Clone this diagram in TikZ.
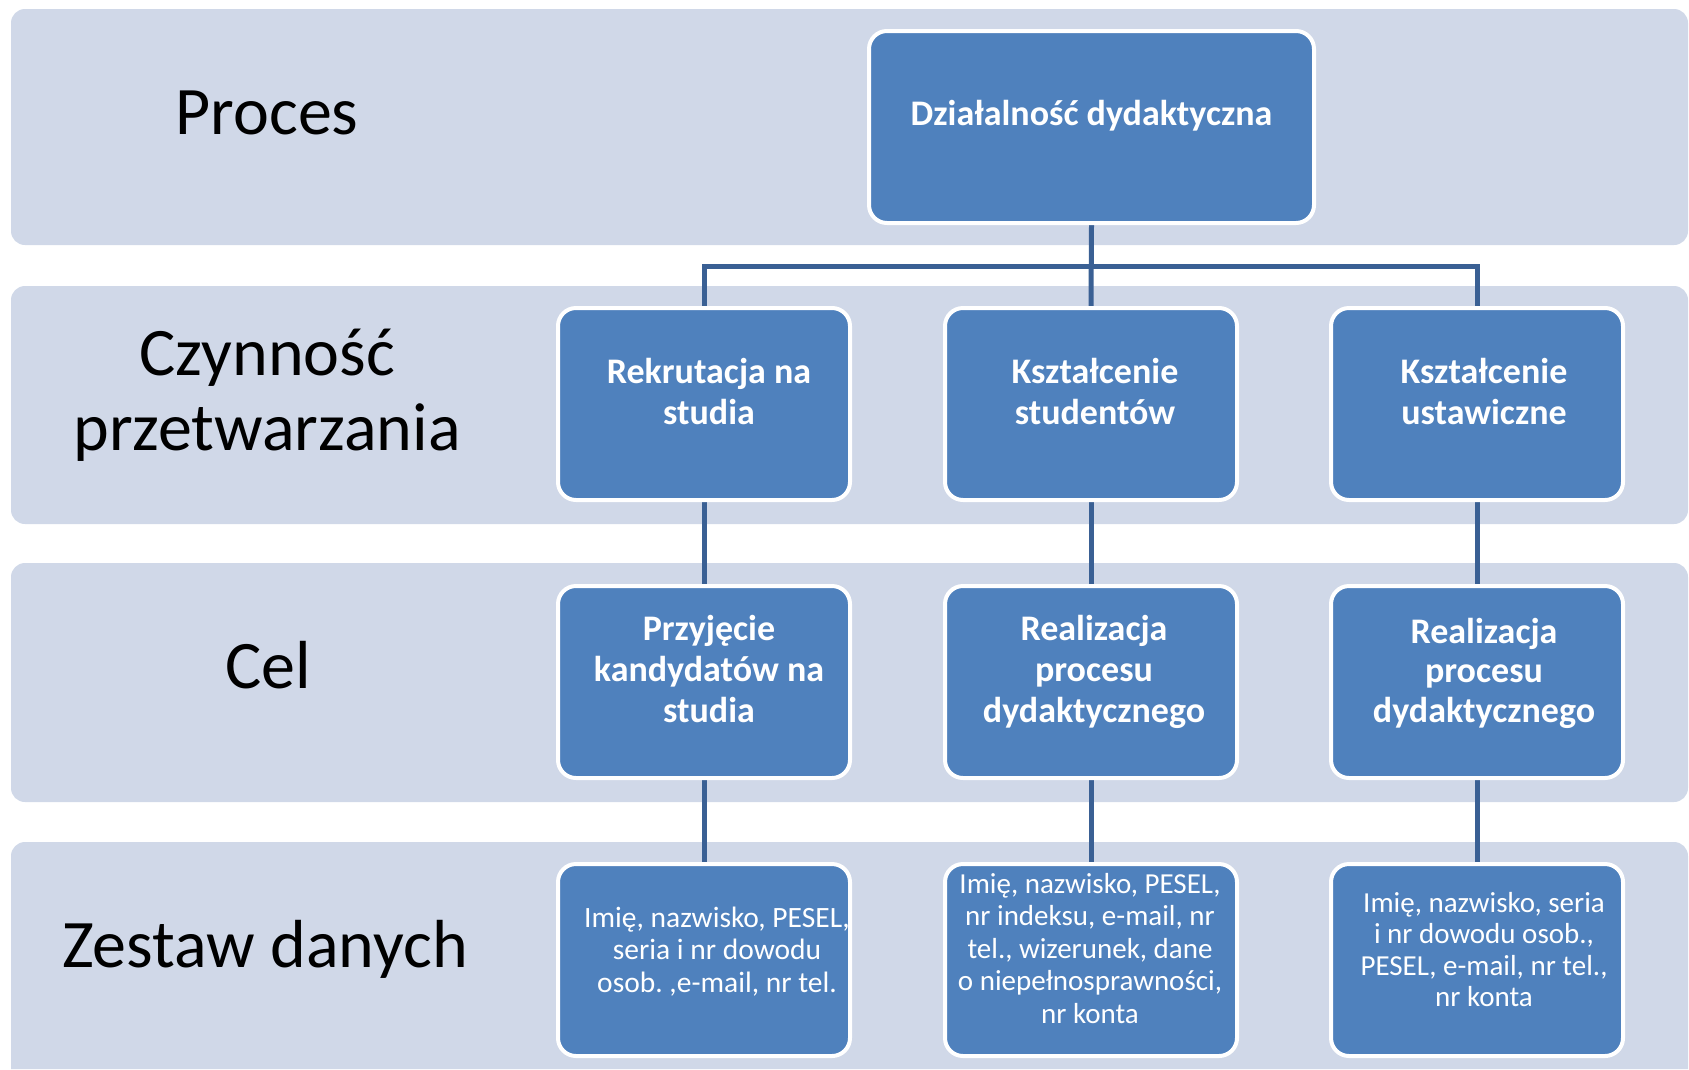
\documentclass[tikz,border=0pt]{standalone}
\usepackage{fontspec}
\setmainfont{Carlito}
\usetikzlibrary{backgrounds}
\definecolor{bandfill}{RGB}{208,216,232}
\definecolor{boxfill}{RGB}{79,129,189}
\definecolor{linecol}{RGB}{58,96,148}
\frenchspacing
\tikzset{
  band/.style={fill=bandfill},
  bluebox/.style={draw=white, line width=4pt, fill=boxfill, rounded corners=18pt,
    minimum width=292pt, minimum height=192pt, inner sep=0pt},
  boxtext/.style={text=white, font=\fontsize{36}{41}\selectfont\bfseries, align=flush center,
    text width=290pt, anchor=base, inner sep=0pt},
  datatext/.style={text=white, font=\fontsize{29}{32.5}\selectfont, align=flush center,
    text width=290pt, anchor=base, inner sep=0pt},
  rowlabel/.style={text=black, font=\fontsize{68}{75}\selectfont, align=flush center,
    text width=500pt, anchor=base, inner sep=0pt},
  conn/.style={draw=linecol, line width=5pt},
}
\begin{document}
\begin{tikzpicture}[x=1pt,y=-1pt]
\useasboundingbox (0,0) rectangle (1689,1069);

% boxes
\node[bluebox, minimum width=445pt] (top) at (1091.5,127) {};
\node[bluebox] (r2a) at (704,404) {};
\node[bluebox] (r2b) at (1091,404) {};
\node[bluebox] (r2c) at (1477,404) {};
\node[bluebox] (r3a) at (704,682) {};
\node[bluebox] (r3b) at (1091,682) {};
\node[bluebox] (r3c) at (1477,682) {};
\node[bluebox] (r4a) at (704,960) {};
\node[bluebox] (r4b) at (1091,960) {};
\node[bluebox] (r4c) at (1477,960) {};

\begin{scope}[on background layer]
  \fill[band, rounded corners=14pt] (11,9) rectangle (1688,245);
  \fill[band, rounded corners=14pt] (11,286) rectangle (1688,524);
  \fill[band, rounded corners=14pt] (11,563) rectangle (1688,802);
  \fill[band] (11,1069) {[rounded corners=14pt] -- (11,842) -- (1688,842)} -- (1688,1069) -- cycle;
  \coordinate (bus) at (1091,266);
  \draw[conn] (top.south) -- (r2b.north);
  \draw[conn] (r2a.north) |- (bus) -| (r2c.north);
  \draw[conn] (r2a.south) -- (r3a.north);
  \draw[conn] (r2b.south) -- (r3b.north);
  \draw[conn] (r2c.south) -- (r3c.north);
  \draw[conn] (r3a.south) -- (r4a.north);
  \draw[conn] (r3b.south) -- (r4b.north);
  \draw[conn] (r3c.south) -- (r4c.north);
\end{scope}

% row labels
\node[rowlabel] (lp) at (267,134) {Proces};
\node[rowlabel] (lc) at (267,375) {Czynność\\przetwarzania};
\node[rowlabel] (lg) at (268,688) {Cel};
\node[rowlabel] (lz) at (265,967) {Zestaw danych};

% box texts
\node[boxtext, text width=440pt] (ttop) at (1091.5,125) {Działalność dydaktyczna};
\node[boxtext] (t2a) at (709,383) {Rekrutacja na\\studia};
\node[boxtext] (t2b) at (1095,383) {Kształcenie\\studentów};
\node[boxtext] (t2c) at (1484,383) {Kształcenie\\ustawiczne};
\node[boxtext] (t3a) at (709,640) {Przyjęcie\\kandydatów na\\studia};
\node[boxtext] (t3b) at (1094,640) {Realizacja\\procesu\\dydaktycznego};
\node[boxtext, font=\fontsize{36}{39.5}\selectfont\bfseries] (t3c) at (1484,643) {Realizacja\\procesu\\dydaktycznego};
\node[datatext, font=\fontsize{29.5}{32.5}\selectfont] (t4a) at (717,927) {Imię, nazwisko, PESEL,\\seria i nr dowodu\\osob. ,e-mail, nr tel.};
\node[datatext] (t4b) at (1090,893) {Imię, nazwisko, PESEL,\\nr indeksu, e-mail, nr\\tel., wizerunek, dane\\o niepełnosprawności,\\nr konta};
\node[datatext, font=\fontsize{29}{31.5}\selectfont] (t4c) at (1484,912) {Imię, nazwisko, seria\\i nr dowodu osob.,\\PESEL, e-mail, nr tel.,\\nr konta};
\end{tikzpicture}
\end{document}
